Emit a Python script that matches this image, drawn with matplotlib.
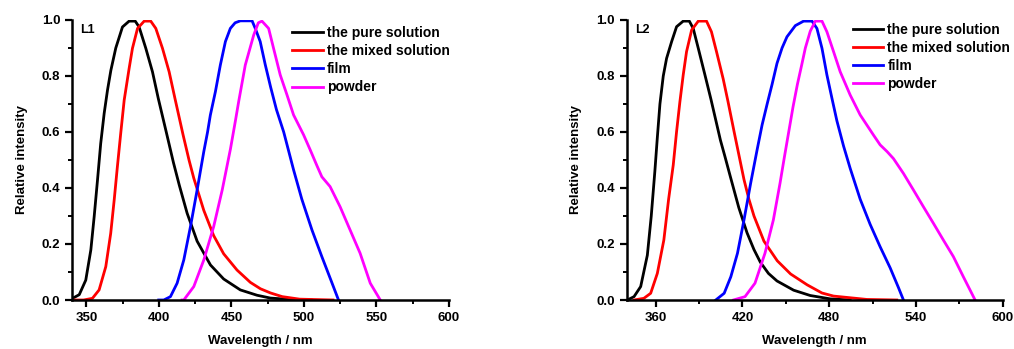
import numpy as np
import matplotlib
matplotlib.use('Agg')
import matplotlib.pyplot as plt
from matplotlib.ticker import MultipleLocator

plt.rcParams['font.family'] = ['Liberation Sans', 'DejaVu Sans']
plt.rcParams['font.weight'] = 'bold'

# -- emission spectra, L1
l1_pure_x = [340.4, 345.0, 349.5, 353.0, 355.3, 357.6, 359.8, 362.2, 364.5, 366.8, 370.2, 374.8,
             379.4, 383.6, 386.3, 390.9, 395.5, 399.5, 405.0, 410.0, 414.0, 419.4, 426.3, 435.5,
             444.6, 456.1, 467.6, 476.7, 490.0, 505.0]
l1_pure_y = [0.006, 0.019, 0.071, 0.179, 0.298, 0.429, 0.559, 0.667, 0.75, 0.82, 0.90, 0.975,
             0.996, 0.996, 0.975, 0.899, 0.815, 0.72, 0.60, 0.49, 0.41, 0.31, 0.21, 0.125,
             0.075, 0.036, 0.017, 0.007, 0.002, 0.0]
l1_mixed_x = [340.4, 348.0, 354.1, 358.7, 363.3, 366.7, 369.1, 371.3, 373.6, 376.0, 379.4, 381.7,
              385.2, 389.8, 394.3, 397.8, 402.4, 407.0, 411.0, 416.6, 420.7, 424.0, 430.9, 437.7,
              444.6, 453.8, 463.0, 470.0, 477.0, 485.0, 497.0, 520.0]
l1_mixed_y = [0.0, 0.0, 0.006, 0.036, 0.119, 0.238, 0.357, 0.476, 0.595, 0.714, 0.827, 0.899,
              0.97, 0.996, 0.996, 0.97, 0.899, 0.815, 0.72, 0.59, 0.50, 0.435, 0.32, 0.23,
              0.165, 0.107, 0.063, 0.04, 0.025, 0.012, 0.003, 0.0]
l1_film_x = [399.8, 403.3, 407.9, 412.5, 417.1, 421.7, 426.3, 430.9, 433.5, 435.4, 438.9, 442.3,
             445.8, 449.2, 452.5, 456.1, 464.2, 466.4, 469.8, 473.3, 477.0, 481.0, 486.0, 492.8,
             498.5, 505.5, 512.3, 519.0, 523.8]
l1_film_y = [0.0, 0.0, 0.012, 0.06, 0.143, 0.262, 0.393, 0.53, 0.6, 0.66, 0.744, 0.839,
             0.923, 0.97, 0.99, 0.997, 0.997, 0.97, 0.923, 0.84, 0.76, 0.68, 0.60, 0.465,
             0.36, 0.25, 0.155, 0.065, 0.0]
l1_powder_x = [415.9, 417.1, 424.0, 430.9, 437.7, 443.6, 449.3, 452.7, 455.0, 459.5, 465.3, 468.5,
               471.0, 475.6, 479.0, 483.6, 488.3, 492.8, 499.7, 504.3, 508.9, 512.3, 518.0, 524.9,
               531.8, 538.7, 545.7, 552.6]
l1_powder_y = [0.0, 0.0, 0.048, 0.143, 0.262, 0.393, 0.54, 0.64, 0.71, 0.839, 0.946, 0.99,
               0.996, 0.97, 0.899, 0.804, 0.732, 0.661, 0.59, 0.536, 0.48, 0.44, 0.405, 0.333,
               0.25, 0.167, 0.06, 0.0]

# -- emission spectra, L2
l2_pure_x = [340.5, 345.1, 349.7, 354.3, 357.0, 359.5, 361.2, 363.0, 365.3, 367.6, 371.1, 374.5,
             379.1, 383.3, 386.0, 389.5, 394.1, 398.3, 404.8, 407.8, 411.7, 417.5, 423.2, 428.0,
             432.4, 438.0, 443.9, 455.4, 466.9, 480.7, 494.5]
l2_pure_y = [0.0, 0.012, 0.048, 0.16, 0.30, 0.46, 0.58, 0.70, 0.80, 0.863, 0.923, 0.976,
             0.996, 0.996, 0.97, 0.899, 0.804, 0.716, 0.571, 0.515, 0.44, 0.33, 0.24, 0.18,
             0.135, 0.095, 0.068, 0.035, 0.016, 0.004, 0.0]
l2_mixed_x = [345.1, 351.9, 356.6, 361.2, 365.7, 369.0, 372.2, 374.5, 376.8, 379.1, 381.4, 384.9,
              389.5, 395.2, 398.6, 402.1, 406.7, 410.0, 414.3, 417.5, 421.1, 424.5, 428.0, 434.9,
              444.1, 453.3, 464.8, 475.0, 483.0, 506.0, 526.7]
l2_mixed_y = [0.0, 0.006, 0.024, 0.095, 0.214, 0.36, 0.482, 0.601, 0.708, 0.804, 0.887, 0.964,
              0.996, 0.996, 0.958, 0.887, 0.79, 0.71, 0.6, 0.52, 0.43, 0.36, 0.30, 0.21,
              0.14, 0.093, 0.054, 0.025, 0.014, 0.002, 0.0]
l2_film_x = [401.6, 407.4, 412.0, 416.6, 421.1, 425.7, 430.3, 433.6, 437.1, 440.5, 443.9, 447.4,
             450.8, 456.6, 462.3, 468.1, 471.5, 475.0, 478.4, 481.9, 485.3, 489.9, 494.5, 501.4,
             508.3, 515.2, 522.1, 527.8, 531.3]
l2_film_y = [0.0, 0.024, 0.083, 0.167, 0.286, 0.417, 0.54, 0.625, 0.70, 0.77, 0.845, 0.90,
             0.94, 0.98, 0.996, 0.996, 0.97, 0.899, 0.804, 0.72, 0.64, 0.55, 0.47, 0.36,
             0.27, 0.19, 0.115, 0.045, 0.0]
l2_powder_x = [413.8, 421.8, 428.7, 435.6, 441.4, 446.0, 449.0, 452.0, 455.0, 458.0, 461.0, 463.5,
               466.9, 470.4, 475.0, 478.4, 483.0, 487.6, 494.5, 501.4, 510.6, 515.2, 520.0, 524.4,
               531.3, 538.2, 545.1, 552.0, 558.9, 565.8, 572.7, 577.3, 580.8]
l2_powder_y = [0.0, 0.012, 0.06, 0.167, 0.286, 0.417, 0.51, 0.60, 0.69, 0.77, 0.84, 0.90,
               0.96, 0.996, 0.996, 0.958, 0.887, 0.815, 0.732, 0.661, 0.589, 0.554, 0.53, 0.505,
               0.452, 0.393, 0.333, 0.274, 0.214, 0.155, 0.083, 0.036, 0.0]

labels = ['the pure solution', 'the mixed solution', 'film', 'powder']
colors = ['black', '#ff0000', '#0000ff', '#ff00ff']

panels = [
    ('L1', [(l1_pure_x, l1_pure_y), (l1_mixed_x, l1_mixed_y), (l1_film_x, l1_film_y), (l1_powder_x, l1_powder_y)],
     [0.071, 0.1404, 0.3718, 0.8023], 50, 25, (0.584, 0.979)),
    ('L2', [(l2_pure_x, l2_pure_y), (l2_mixed_x, l2_mixed_y), (l2_film_x, l2_film_y), (l2_powder_x, l2_powder_y)],
     [0.618, 0.1404, 0.371, 0.8023], 60, 30, (0.601, 0.991)),
]

fig = plt.figure(figsize=(10.14, 3.49), dpi=100)

for name, series, pos, major, minor, leg_anchor in panels:
    ax = fig.add_axes(pos)
    for (x, y), lab, c in zip(series, labels, colors):
        ax.plot(x, y, color=c, lw=2.0, label=lab, solid_joinstyle='round')
    ax.set_xlim(340, 600)
    ax.set_ylim(0, 1.0)
    ax.xaxis.set_major_locator(MultipleLocator(major))
    ax.xaxis.set_minor_locator(MultipleLocator(minor))
    ax.yaxis.set_major_locator(MultipleLocator(0.2))
    ax.yaxis.set_minor_locator(MultipleLocator(0.1))
    ax.yaxis.set_major_formatter(plt.FuncFormatter(lambda v, p: f'{v:.1f}'))
    for s in ['top', 'right']:
        ax.spines[s].set_visible(False)
    for s in ['left', 'bottom']:
        ax.spines[s].set_linewidth(1.8)
    ax.tick_params(which='major', direction='out', length=5, width=1.6, labelsize=9.5)
    ax.tick_params(which='minor', direction='out', length=3, width=1.4)
    ax.set_xlabel('Wavelength / nm', fontsize=9.5, fontweight='bold', labelpad=8)
    ax.set_ylabel('Relative intensity', fontsize=9.5, fontweight='bold', labelpad=10)
    ax.text(0.022, 0.985, name, transform=ax.transAxes, fontsize=9, fontweight='bold', va='top')
    ax.legend(loc='upper left', bbox_to_anchor=leg_anchor, frameon=False, fontsize=10,
              handlelength=2.2, handletextpad=0.3, labelspacing=0.3, borderaxespad=0,
              borderpad=0)

fig.savefig('out.png', dpi=100)
